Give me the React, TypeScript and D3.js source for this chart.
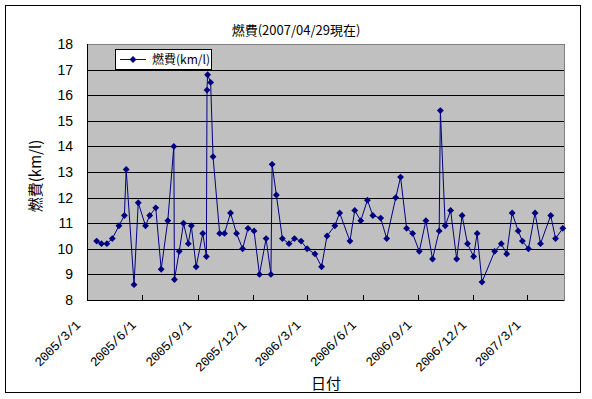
import { useRef, useEffect } from 'react'
import * as d3 from 'd3'

// 給油日ごとの燃費 (km/l)
const dates = [
  '2005/3/17', '2005/3/25', '2005/4/3', '2005/4/12', '2005/4/23', '2005/5/2', '2005/5/5', '2005/5/18',
  '2005/5/25', '2005/6/6', '2005/6/13', '2005/6/23', '2005/7/2', '2005/7/13', '2005/7/23', '2005/7/24',
  '2005/8/1', '2005/8/8', '2005/8/16', '2005/8/21', '2005/8/29', '2005/9/9', '2005/9/15', '2005/9/16',
  '2005/9/17', '2005/9/22', '2005/9/26', '2005/10/7', '2005/10/15', '2005/10/25', '2005/11/4', '2005/11/14',
  '2005/11/23', '2005/12/3', '2005/12/12', '2005/12/23', '2005/12/31', '2006/1/2', '2006/1/9', '2006/1/19',
  '2006/1/30', '2006/2/8', '2006/2/19', '2006/3/1', '2006/3/14', '2006/3/25', '2006/4/3', '2006/4/16',
  '2006/4/24', '2006/5/11', '2006/5/19', '2006/5/29', '2006/6/9', '2006/6/18', '2006/7/1', '2006/7/11',
  '2006/7/26', '2006/8/3', '2006/8/13', '2006/8/23', '2006/9/3', '2006/9/14', '2006/9/25', '2006/10/6',
  '2006/10/8', '2006/10/16', '2006/10/25', '2006/11/4', '2006/11/13', '2006/11/22', '2006/12/2', '2006/12/8',
  '2006/12/16', '2007/1/6', '2007/1/17', '2007/1/26', '2007/2/4', '2007/2/14', '2007/2/21', '2007/3/3',
  '2007/3/14', '2007/3/23', '2007/4/9', '2007/4/17', '2007/4/29',
]
const nenpi = [
  10.3, 10.2, 10.2, 10.4, 10.9, 11.3, 13.1, 8.6,
  11.8, 10.9, 11.3, 11.6, 9.2, 11.1, 14.0, 8.8,
  9.9, 11.0, 10.2, 10.9, 9.3, 10.6, 9.7, 16.2,
  16.8, 16.5, 13.6, 10.6, 10.6, 11.4, 10.6, 10.0,
  10.8, 10.7, 9.0, 10.4, 9.0, 13.3, 12.1, 10.4,
  10.2, 10.4, 10.3, 10.0, 9.8, 9.3, 10.5, 10.9,
  11.4, 10.3, 11.5, 11.1, 11.9, 11.3, 11.2, 10.4,
  12.0, 12.8, 10.8, 10.6, 9.9, 11.1, 9.6, 10.7,
  15.4, 10.9, 11.5, 9.6, 11.3, 10.2, 9.7, 10.6,
  8.7, 9.9, 10.2, 9.8, 11.4, 10.7, 10.3, 10.0,
  11.4, 10.2, 11.3, 10.4, 10.8,
]
const xTicks = ['2005/3/1', '2005/6/1', '2005/9/1', '2005/12/1', '2006/3/1', '2006/6/1', '2006/9/1', '2006/12/1', '2007/3/1']
const xDomain = ['2005/3/1', '2007/5/1']
const yTicks = [8, 9, 10, 11, 12, 13, 14, 15, 16, 17, 18]

const parse = d3.timeParse('%Y/%-m/%-d')
const JP = '"Noto Sans CJK JP", sans-serif'
const NUM = '"Liberation Sans Narrow", "Liberation Sans", sans-serif'
const MONO = '"Liberation Mono", monospace'
const NAVY = '#000080'

export default function App() {
  const svgRef = useRef<SVGSVGElement>(null)

  useEffect(() => {
    const W = 592, H = 399
    const m = { left: 87, right: 564, top: 44, bottom: 300 }
    const svg = d3.select(svgRef.current).attr('width', W).attr('height', H)
    svg.selectAll('*').remove()

    const data = dates.map((d, i) => ({ date: parse(d) as Date, v: nenpi[i] }))
    const x = d3.scaleTime().domain(xDomain.map(d => parse(d) as Date)).range([m.left, m.right])
    const y = d3.scaleLinear().domain([8, 18]).range([m.bottom, m.top])

    // 外枠
    svg.append('rect').attr('x', 5.5).attr('y', 5.5).attr('width', 575).attr('height', 387)
      .attr('fill', '#fff').attr('stroke', '#000')

    svg.append('text').attr('x', 296).attr('y', 35).attr('text-anchor', 'middle')
      .attr('font-family', JP).attr('font-size', '13px').text('燃費(2007/04/29現在)')

    // プロットエリア
    svg.append('rect').attr('x', m.left).attr('y', m.top)
      .attr('width', m.right - m.left).attr('height', m.bottom - m.top)
      .attr('fill', '#c0c0c0').attr('stroke', '#808080').attr('shape-rendering', 'crispEdges')

    svg.append('g').selectAll('line').data(yTicks.slice(1, -1)).join('line')
      .attr('x1', m.left).attr('x2', m.right)
      .attr('y1', d => Math.round(y(d)) + 0.5).attr('y2', d => Math.round(y(d)) + 0.5)
      .attr('stroke', '#000')

    // 軸
    svg.append('line').attr('x1', m.left + 0.5).attr('x2', m.left + 0.5).attr('y1', m.top).attr('y2', m.bottom)
      .attr('stroke', '#000')
    svg.append('line').attr('x1', m.left).attr('x2', m.right).attr('y1', m.bottom + 0.5).attr('y2', m.bottom + 0.5)
      .attr('stroke', '#000')

    svg.append('g').selectAll('text').data(yTicks).join('text')
      .attr('x', 73).attr('y', d => y(d) + 5).attr('text-anchor', 'end')
      .attr('font-family', NUM).attr('font-size', '14px').text(d => d)

    const tickDates = xTicks.map(d => parse(d) as Date)
    svg.append('g').selectAll('line').data(tickDates).join('line')
      .attr('x1', d => Math.round(x(d)) + 0.5).attr('x2', d => Math.round(x(d)) + 0.5)
      .attr('y1', m.bottom).attr('y2', m.bottom - 5).attr('stroke', '#000')
    svg.append('g').selectAll('text').data(xTicks).join('text')
      .attr('transform', (d, i) => `translate(${x(tickDates[i]) - 6},${m.bottom + 26}) rotate(-45)`)
      .attr('text-anchor', 'end').attr('font-family', MONO).attr('font-size', '13px')
      .attr('letter-spacing', '-0.5px')
      .text(d => d)

    svg.append('text').attr('x', 326).attr('y', 389).attr('text-anchor', 'middle')
      .attr('font-family', JP).attr('font-size', '15px').text('日付')
    svg.append('text').attr('transform', `translate(41,176) rotate(-90)`).attr('text-anchor', 'middle')
      .attr('font-family', JP).attr('font-size', '15px').text('燃費(km/l)')

    // 系列
    const line = d3.line<{ date: Date; v: number }>().x(d => x(d.date)).y(d => y(d.v))
    svg.append('path').datum(data).attr('d', line).attr('fill', 'none').attr('stroke', NAVY).attr('stroke-width', 1)
    const diamond = d3.symbol().type(d3.symbolDiamond2).size(30)
    svg.append('g').selectAll('path').data(data).join('path')
      .attr('transform', d => `translate(${x(d.date)},${y(d.v)})`)
      .attr('d', diamond).attr('fill', NAVY)

    // 凡例
    const lg = svg.append('g').attr('transform', 'translate(115,49)')
    lg.append('rect').attr('x', 0.5).attr('y', 0.5).attr('width', 96).attr('height', 20)
      .attr('fill', '#fff').attr('stroke', '#000')
    lg.append('line').attr('x1', 5).attr('x2', 31).attr('y1', 10.5).attr('y2', 10.5).attr('stroke', NAVY)
    lg.append('path').attr('transform', 'translate(18,10.5)').attr('d', diamond).attr('fill', NAVY)
    lg.append('text').attr('x', 37).attr('y', 15).attr('font-family', JP).attr('font-size', '12px')
      .text('燃費(km/l)')
  }, [])

  return <svg ref={svgRef} style={{ position: 'absolute', left: 0, top: 0, display: 'block' }} />
}
